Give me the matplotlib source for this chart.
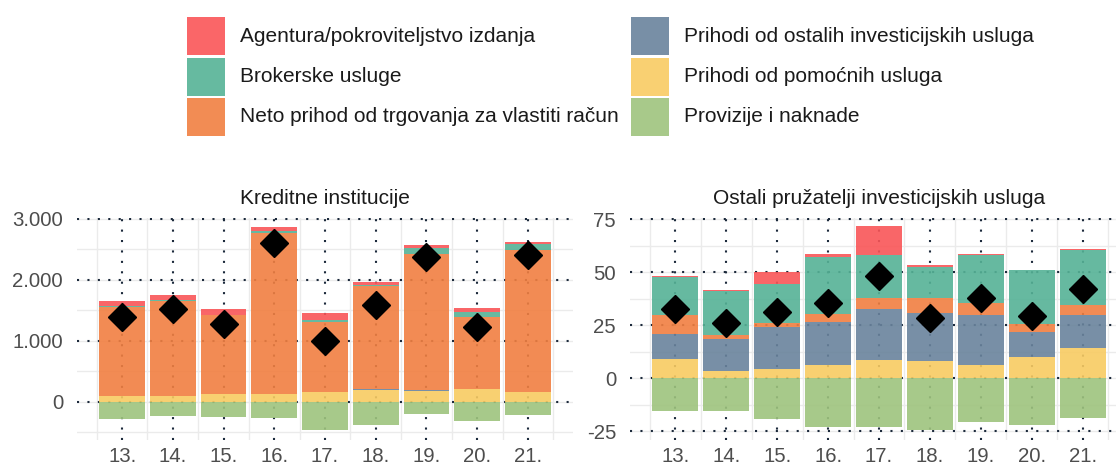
import numpy as np
import matplotlib.pyplot as plt
from matplotlib.patches import Rectangle
from matplotlib.ticker import FuncFormatter

plt.rcParams['font.family'] = ['Liberation Sans', 'DejaVu Sans']
plt.rcParams['axes.unicode_minus'] = False

godine = [13, 14, 15, 16, 17, 18, 19, 20, 21]
oznake = ["13.", "14.", "15.", "16.", "17.", "18.", "19.", "20.", "21."]

serije = ["Agentura/pokroviteljstvo izdanja", "Brokerske usluge",
          "Neto prihod od trgovanja za vlastiti račun",
          "Prihodi od ostalih investicijskih usluga",
          "Prihodi od pomoćnih usluga", "Provizije i naknade"]
# colours as they look on white (legend) and the base for the translucent bars
boje = ["#FA6668", "#66BAA0", "#F28C54", "#788FA6", "#F9D072", "#A8C98A"]
boje_stupci = ["#F95557", "#55B296", "#F17F41", "#69839C", "#F8CB62", "#9EC37D"]

# Kreditne institucije
ki_agentura = [77, 76, 93, 76, 116, 55, 54, 66, 28]
ki_brokerske = [16, 17, 11, 22, 27, 16, 88, 82, 104]
ki_neto = [1469, 1567, 1293, 2636, 1156, 1688, 2241, 1173, 2334]
ki_ostalo = [0, 0, 0, 0, 0, 11, 11, 0, 0]
ki_pomocne = [93, 93, 126, 137, 159, 197, 181, 219, 159]
ki_provizije = [-280, -236, -252, -268, -466, -384, -203, -318, -219]
ki_ukupno = [1386, 1529, 1282, 2608, 997, 1584, 2384, 1233, 2416]

# Ostali pruzatelji investicijskih usluga
op_agentura = [0.6, 0.8, 5.2, 1.0, 13.5, 0.7, 0.7, 0.2, 0.4]
op_brokerske = [17.8, 20.6, 18.6, 26.9, 20.0, 14.4, 22.6, 25.3, 25.9]
op_neto = [9.1, 1.9, 2.1, 3.8, 5.2, 7.3, 5.8, 3.8, 5.0]
op_ostalo = [11.7, 14.9, 19.5, 20.3, 24.1, 22.5, 23.6, 11.8, 15.4]
op_pomocne = [9.1, 3.5, 4.4, 6.3, 8.7, 8.2, 6.0, 10.1, 14.2]
op_provizije = [-15.3, -15.3, -19.1, -23.0, -23.3, -24.3, -20.6, -22.0, -18.7]
op_ukupno = [32.6, 26.0, 31.0, 35.4, 48.0, 28.5, 37.8, 29.1, 42.2]

W, H = 1116, 468
fig = plt.figure(figsize=(W / 100, H / 100), dpi=100)

tocke = (0, (1, 4))
tamna = "#1C2A3C"
siva = "#EBEBEB"


def panel(ax, naslov, agent, brok, neto, ost, pom, prov, ukupno, yticks, minor, ylim, fmt):
    x = np.array(godine)
    ax.set_xlim(12.11, 21.89)
    ax.set_ylim(*ylim)
    for s in ax.spines.values():
        s.set_visible(False)
    # light grid
    for v in list(minor) + list(yticks):
        ax.axhline(v, color=siva, lw=1.0, zorder=0)
    for v in np.arange(12.5, 22, 1.0):
        ax.axvline(v, color=siva, lw=1.0, zorder=0)
    # dotted lines
    for v in yticks:
        ax.axhline(v, color=tamna, lw=1.5, ls=tocke, dash_capstyle='butt', zorder=1)
    for v in x:
        ax.axvline(v, color=tamna, lw=1.5, ls=tocke, dash_capstyle='butt', zorder=1)
    # stacked bars: bottom to top
    slojevi = [(pom, boje_stupci[4]), (ost, boje_stupci[3]), (neto, boje_stupci[2]),
               (brok, boje_stupci[1]), (agent, boje_stupci[0])]
    dno = np.zeros(len(x))
    for vals, c in slojevi:
        vals = np.array(vals, dtype=float)
        ax.bar(x, vals, bottom=dno, width=0.9, color=c, alpha=0.9, lw=0, zorder=2)
        dno = dno + vals
    ax.bar(x, prov, width=0.9, color=boje_stupci[5], alpha=0.9, lw=0, zorder=2)
    ax.plot(x, ukupno, ls='none', marker='D', ms=14, color='black', zorder=3)
    ax.set_xticks(x)
    ax.set_xticklabels(oznake)
    ax.set_yticks(yticks)
    ax.yaxis.set_major_formatter(FuncFormatter(fmt))
    ax.tick_params(length=0, labelsize=14.7, labelcolor="#4D4D4D")
    ax.tick_params(axis='y', pad=10)
    ax.tick_params(axis='x', pad=5)
    ax.set_title(naslov, fontsize=15, color="#1A1A1A", pad=10)


ax1 = fig.add_axes([77 / W, 28 / H, 496 / W, 222 / H])
panel(ax1, "Kreditne institucije", ki_agentura, ki_brokerske, ki_neto, ki_ostalo,
      ki_pomocne, ki_provizije, ki_ukupno, [0, 1000, 2000, 3000],
      [-500, 500, 1500, 2500], (-623, 3016),
      lambda v, p: f"{v:,.0f}".replace(",", "."))

ax2 = fig.add_axes([630 / W, 28 / H, 498 / W, 222 / H])
panel(ax2, "Ostali pružatelji investicijskih usluga", op_agentura, op_brokerske, op_neto,
      op_ostalo, op_pomocne, op_provizije, op_ukupno, [-25, 0, 25, 50, 75],
      [-12.5, 12.5, 37.5, 62.5], (-29.2, 75.5),
      lambda v, p: f"{v:.0f}")

# legend
redovi = [36, 77, 117]
stupci = [(187, 240), (631, 684)]
for i, (naziv, c) in enumerate(zip(serije, boje)):
    kx, tx = stupci[i // 3]
    cy = redovi[i % 3]
    fig.add_artist(Rectangle((kx / W, 1 - (cy + 19) / H), 38 / W, 38 / H,
                             transform=fig.transFigure, color=c, lw=0))
    fig.text(tx / W, 1 - cy / H, naziv, fontsize=15, color="#1A1A1A", va='center', ha='left')

fig.savefig("out.png", dpi=100)
